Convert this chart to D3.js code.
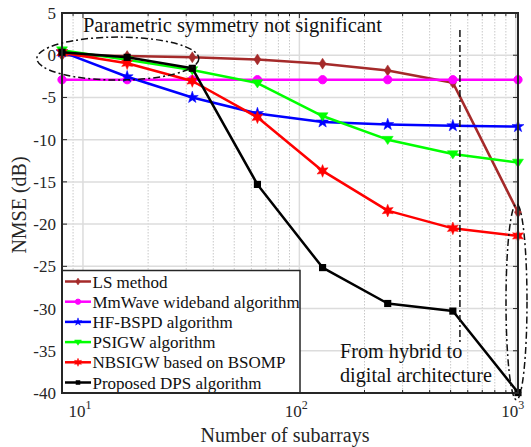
<!DOCTYPE html>
<html><head><meta charset="utf-8">
<script src="https://cdn.jsdelivr.net/npm/d3@7"></script>
<style>body{margin:0;background:#fff}svg{display:block}</style>
</head><body><svg id="c" width="531" height="447" font-family="'Liberation Serif', 'Times New Roman', Times, 'DejaVu Serif', serif"></svg>
<script>
const subarrays = [8, 16, 32, 64, 128, 256, 512, 1024];
const seriesNames = ["LS method","MmWave wideband algorithm","HF-BSPD algorithm","PSIGW algorithm","NBSIGW based on BSOMP","Proposed DPS algorithm"];
const lsMethod   = [0.0, -0.1, -0.25, -0.5, -1.0, -1.8, -3.25, -18.6];
const mmWave     = [-2.9, -2.9, -2.9, -2.9, -2.9, -2.9, -2.9, -2.9];
const hfBspd     = [0.4, -2.55, -5.0, -6.9, -7.9, -8.2, -8.35, -8.45];
const psigw      = [0.6, -0.55, -1.75, -3.3, -7.2, -10.0, -11.7, -12.7];
const nbsigw     = [0.3, -0.95, -3.05, -7.35, -13.7, -18.4, -20.5, -21.4];
const proposed   = [0.35, -0.25, -1.55, -15.3, -25.15, -29.4, -30.3, -39.95];
const yTicks = [5, 0, -5, -10, -15, -20, -25, -30, -35, -40];
const xTicks = [10, 100, 1000];
const xTickExp = ["1", "2", "3"];
const colors = ["#a52a2a", "#ff00ff", "#0000ff", "#00ff00", "#ff0000", "#000000"];
const markers = ["diamond", "circle", "star5", "tridown", "star6", "square"];
const allSeries = [lsMethod, mmWave, hfBspd, psigw, nbsigw, proposed];

const svg = d3.select("#c");
const L = 62, R = 518, T = 13, B = 393;
const x = d3.scaleLog().domain([8, 1024]).range([L, R]);
const y = d3.scaleLinear().domain([-40, 5]).range([B, T]);
const txtColor = "#262626";

const minor = [];
[1, 10, 100].forEach(d => { for (let k = 1; k <= 9; k++) { const v = d * k; if (v >= 8 && v <= 1024 && !xTicks.includes(v)) minor.push(v); } });

const g = svg.append("g");
g.selectAll(".mgx").data(minor).join("line").attr("x1", d => x(d)).attr("x2", d => x(d)).attr("y1", T).attr("y2", B)
  .attr("stroke", "#c8c8c8").attr("stroke-width", 1).attr("stroke-dasharray", "1.5,1.5");
g.selectAll(".gx").data(xTicks).join("line").attr("x1", d => x(d)).attr("x2", d => x(d)).attr("y1", T).attr("y2", B)
  .attr("stroke", "#dcdcdc").attr("stroke-width", 1.5);
g.selectAll(".gy").data(yTicks).join("line").attr("x1", L).attr("x2", R).attr("y1", d => y(d)).attr("y2", d => y(d))
  .attr("stroke", "#dcdcdc").attr("stroke-width", 1.5);

const tk = svg.append("g").attr("stroke", "#262626").attr("stroke-width", 1);
yTicks.forEach(v => {
  tk.append("line").attr("x1", L).attr("x2", L + 5).attr("y1", y(v)).attr("y2", y(v));
  tk.append("line").attr("x1", R).attr("x2", R - 5).attr("y1", y(v)).attr("y2", y(v));
});
xTicks.forEach(v => {
  tk.append("line").attr("x1", x(v)).attr("x2", x(v)).attr("y1", B).attr("y2", B - 5);
  tk.append("line").attr("x1", x(v)).attr("x2", x(v)).attr("y1", T).attr("y2", T + 5);
});
minor.forEach(v => {
  tk.append("line").attr("x1", x(v)).attr("x2", x(v)).attr("y1", B).attr("y2", B - 3);
  tk.append("line").attr("x1", x(v)).attr("x2", x(v)).attr("y1", T).attr("y2", T + 3);
});

svg.selectAll(".yl").data(yTicks).join("text").attr("x", L - 6).attr("y", d => y(d) + 6).attr("fill", txtColor)
  .attr("text-anchor", "end").attr("font-size", 17).text(d => d);
xTicks.forEach((v, i) => {
  const t = svg.append("text").attr("x", x(v) - 3).attr("y", B + 24).attr("text-anchor", "middle").attr("font-size", 17).attr("fill", txtColor);
  t.append("tspan").text("10");
  t.append("tspan").attr("dy", -8).attr("font-size", 12).text(xTickExp[i]);
});
svg.append("text").attr("x", 285).attr("y", 442).attr("text-anchor", "middle").attr("font-size", 20).attr("fill", txtColor).text("Number of subarrays");
svg.append("text").attr("transform", `translate(26,${(T + B) / 2 + 2}) rotate(-90)`).attr("text-anchor", "middle").attr("font-size", 20).attr("fill", txtColor).text("NMSE (dB)");

function marker(sel, type, color, size) {
  const s = size;
  let p;
  if (type === "circle") return sel.append("circle").attr("r", s * 0.75).attr("fill", color).attr("stroke", color);
  if (type === "square") return sel.append("rect").attr("x", -s * 0.65).attr("y", -s * 0.65).attr("width", s * 1.3).attr("height", s * 1.3).attr("fill", color);
  if (type === "diamond") p = `M0,${-s}L${s * 0.65},0L0,${s}L${-s * 0.65},0Z`;
  if (type === "tridown") p = `M${-s},${-s * 0.6}L${s},${-s * 0.6}L0,${s * 0.9}Z`;
  if (type === "star5" || type === "star6") {
    const n = type === "star5" ? 5 : 6, ro = s * 1.15, ri = type === "star5" ? s * 0.45 : s * 0.55;
    const pts = [];
    for (let i = 0; i < 2 * n; i++) { const a = -Math.PI / 2 + i * Math.PI / n; const r = i % 2 ? ri : ro; pts.push([r * Math.cos(a), r * Math.sin(a)]); }
    p = "M" + pts.map(q => q.join(",")).join("L") + "Z";
  }
  return sel.append("path").attr("d", p).attr("fill", color).attr("stroke", color).attr("stroke-width", 0.5);
}

const line = d3.line().x((d, i) => x(subarrays[i])).y(d => y(d));
allSeries.forEach((vals, si) => {
  const sg = svg.append("g");
  sg.append("path").attr("d", line(vals)).attr("fill", "none").attr("stroke", colors[si]).attr("stroke-width", 2.5).attr("stroke-linejoin", "round");
  vals.forEach((v, i) => {
    const m = sg.append("g").attr("transform", `translate(${x(subarrays[i])},${y(v)})`);
    marker(m, markers[si], colors[si], 5.5);
  });
});

svg.append("rect").attr("x", L).attr("y", T).attr("width", R - L).attr("height", B - T).attr("fill", "none").attr("stroke", "#262626").attr("stroke-width", 2);

const dashdot = "7,3,2,3";
svg.append("text").attr("x", x(10)).attr("y", 32).attr("font-size", 20.5).attr("fill", "#111").text("Parametric symmetry not significant");
svg.append("ellipse").attr("cx", x(14.5)).attr("cy", y(-0.4)).attr("rx", 81).attr("ry", 21.5)
  .attr("fill", "none").attr("stroke", "#111").attr("stroke-width", 1.5).attr("stroke-dasharray", dashdot);
svg.append("line").attr("x1", x(552)).attr("x2", x(552)).attr("y1", y(3)).attr("y2", y(-34))
  .attr("stroke", "#111").attr("stroke-width", 1.5).attr("stroke-dasharray", dashdot);
svg.append("ellipse").attr("cx", x(1024) - 1.5).attr("cy", y(-29.2)).attr("rx", 10.5).attr("ry", 98)
  .attr("fill", "none").attr("stroke", "#111").attr("stroke-width", 1.5).attr("stroke-dasharray", dashdot);
svg.append("text").attr("x", 340).attr("y", 358).attr("font-size", 20.2).attr("fill", "#111").text("From hybrid to");
svg.append("text").attr("x", 340).attr("y", 382).attr("font-size", 20.2).attr("fill", "#111").text("digital architecture");

const lg = svg.append("g");
lg.append("rect").attr("x", L).attr("y", 270.5).attr("width", 300 - L).attr("height", B - 270.5).attr("fill", "#fff").attr("stroke", "#262626").attr("stroke-width", 1.5);
seriesNames.forEach((n, i) => {
  const yy = 281.5 + i * 20.2;
  lg.append("line").attr("x1", 65).attr("x2", 91).attr("y1", yy).attr("y2", yy).attr("stroke", colors[i]).attr("stroke-width", 2.5);
  const m = lg.append("g").attr("transform", `translate(78,${yy})`);
  marker(m, markers[i], colors[i], 3.5);
  lg.append("text").attr("x", 92.5).attr("y", yy + 6).attr("font-size", 17).attr("fill", "#111").text(n);
});
svg.append("path").attr("d", `M${L},${270}V${B}H${300}`).attr("fill", "none").attr("stroke", "#262626").attr("stroke-width", 2);
</script></body></html>
